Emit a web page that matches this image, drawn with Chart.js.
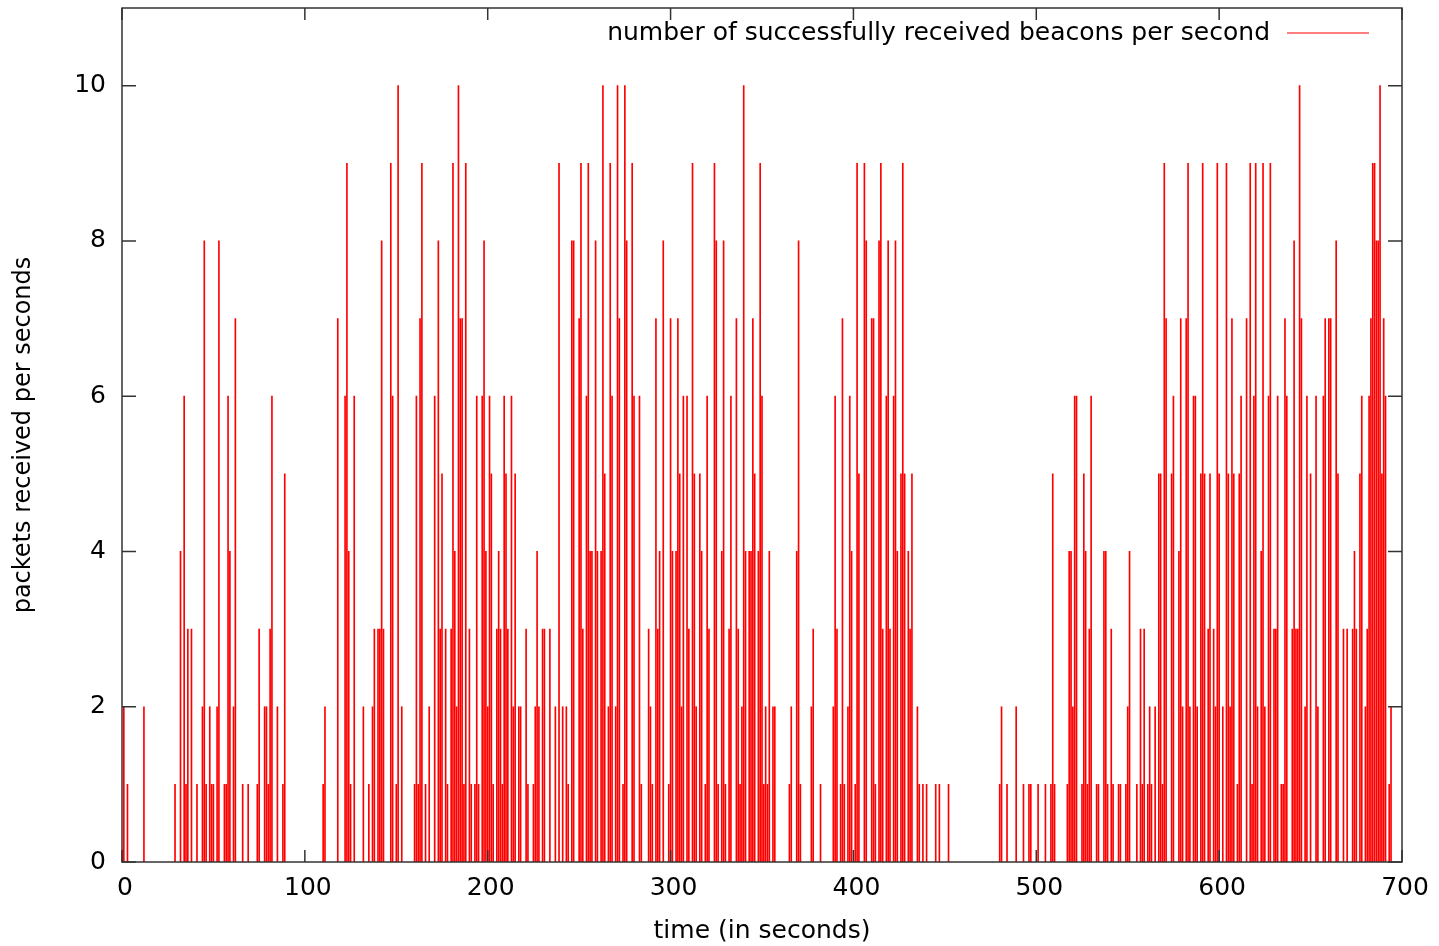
<!DOCTYPE html>
<html>
<head>
<meta charset="utf-8">
<title>Beacons per second</title>
<script src="https://cdn.jsdelivr.net/npm/chart.js@4.4.1/dist/chart.umd.min.js"></script>
<style>
    html, body { margin: 0; padding: 0; background: #fff; }
    #wrap { width: 1439px; height: 946px; }
</style>
</head>
<body>
<div id="wrap"><canvas id="beaconChart" width="1439" height="946"></canvas></div>
<script>
// Seconds that had at least one beacon, and how many were received in that second
const seconds = [
    1, 3, 12, 29, 32, 34, 35, 36, 38, 41, 44, 45, 46, 48, 49, 50, 52, 53, 56, 57,
    58, 59, 61, 62, 66, 69, 74, 75, 78, 79, 80, 81, 82, 85, 88, 89, 110, 111,
    118, 122, 123, 124, 125, 127, 132, 135, 137, 138, 140, 141, 142, 143, 147, 148,
    150, 151, 153, 160, 161, 162, 163, 164, 166, 168, 171, 173, 174,
    175, 177, 178, 180, 181, 182, 183, 184, 185, 186, 187, 188, 190, 191, 193, 194,
    195, 197, 198, 199, 200, 201, 202, 203, 205, 206, 207, 208, 209, 210, 211, 213,
    214, 215, 217, 218, 221, 222, 225, 226, 227, 228, 230, 231,
    234, 237, 239, 241, 243, 244, 246, 247, 250, 251, 252, 254, 255, 256, 257, 259,
    260, 262, 263, 264, 266, 267, 268, 270, 271, 272, 274, 275, 276, 279, 280, 283,
    284, 288, 289, 290,
    292, 293, 294, 296, 299, 300, 301, 303, 304, 305, 306, 307, 309, 310, 312, 313,
    314, 316, 317, 319, 320, 321, 324, 325, 326, 328, 329, 330, 332, 333, 336, 337,
    338, 339, 340, 341, 343, 344, 345, 346, 348, 349, 350,
    351, 352, 353, 354, 356, 357, 365, 366, 369, 370, 371, 377, 378, 382, 389, 390,
    391, 393, 394, 395, 397, 398, 399, 401, 402, 403, 406, 407,
    410, 411, 412, 414, 415, 416, 418, 419, 420, 422, 423, 424, 426, 427, 428, 430,
    431, 432, 435, 436, 438, 440, 445, 447, 452,
    480, 481, 484, 489, 493, 496, 497, 501, 505, 508, 509, 510, 517, 518, 519, 520,
    521, 522, 525, 526,
    527, 528, 529, 530, 533, 534, 537, 538, 539, 541, 542, 545, 546, 549, 550, 551,
    555, 557, 558, 559, 561, 562, 563, 565, 567, 568, 569, 570, 571, 574, 575, 578,
    579, 580, 582, 583,
    584, 586, 587, 588, 590, 591, 592, 594, 595, 597, 598, 599, 600, 602, 604, 605,
    606, 607, 608, 610, 611, 612, 615, 617, 618, 619, 620, 621, 623, 624, 625, 627,
    628, 630, 631, 632, 634, 635, 636, 637, 640, 641, 642,
    643, 644, 645, 647, 648, 650, 653, 654, 657, 658, 660, 661, 664, 665, 668, 670,
    673, 674, 675, 677, 678, 680, 681, 682, 683, 684, 685, 686, 687, 688, 689, 690,
    691, 693, 694
];
const beacons = [
    2, 1, 2, 1, 4, 6, 1, 3, 3, 1, 2, 8, 1, 2, 1, 1, 2, 8, 1, 1,
    6, 4, 2, 7, 1, 1, 1, 3, 2, 2, 1, 3, 6, 2, 1, 5, 1, 2,
    7, 6, 9, 4, 1, 6, 2, 1, 2, 3, 3, 3, 8, 3, 9, 6,
    1, 10, 2, 1, 6, 1, 7, 9, 1, 2, 6, 8, 3,
    5, 3, 1, 3, 9, 4, 2, 10, 7, 7, 1, 9, 3, 1, 1, 6,
    1, 6, 8, 4, 2, 6, 5, 1, 3, 4, 3, 1, 6, 5, 3, 6,
    2, 5, 2, 2, 3, 1, 1, 2, 4, 2, 3, 3,
    3, 2, 9, 2, 2, 1, 8, 8, 7, 9, 3, 6, 9, 4, 4, 8,
    4, 4, 10, 5, 2, 9, 6, 2, 10, 7, 1, 10, 8, 9, 6, 6,
    1, 3, 2, 1,
    7, 3, 4, 8, 1, 7, 4, 4, 7, 5, 2, 6, 6, 3, 9, 5,
    2, 5, 4, 1, 6, 3, 9, 8, 1, 4, 8, 1, 3, 6, 7, 3,
    1, 2, 10, 4, 4, 4, 7, 5, 4, 9, 6,
    1, 2, 1, 4, 2, 2, 1, 2, 4, 8, 1, 2, 3, 1, 2, 6,
    3, 1, 7, 1, 2, 6, 4, 1, 9, 5, 9, 8,
    7, 7, 1, 8, 9, 3, 6, 8, 3, 6, 8, 4, 5, 9, 5, 4,
    3, 5, 2, 1, 1, 1, 1, 1, 1,
    1, 2, 1, 2, 1, 1, 1, 1, 1, 1, 5, 1, 1, 4, 4, 2,
    6, 6, 1, 5,
    4, 1, 3, 6, 1, 1, 4, 4, 1, 3, 1, 1, 1, 1, 2, 4,
    1, 3, 1, 3, 1, 2, 1, 2, 5, 5, 1, 9, 7, 5, 6, 4,
    7, 2, 7, 9,
    2, 6, 6, 2, 5, 9, 5, 3, 5, 3, 2, 9, 5, 2, 9, 5,
    2, 7, 5, 1, 5, 6, 7, 9, 1, 6, 9, 2, 4, 9, 2, 6,
    9, 3, 3, 6, 1, 1, 7, 6, 3, 8, 3,
    3, 10, 7, 2, 6, 5, 6, 2, 6, 7, 7, 7, 8, 5, 3, 3,
    3, 4, 3, 5, 6, 2, 3, 6, 7, 9, 9, 8, 8, 10, 5, 7,
    6, 1, 2
];

const xTicks = [0, 100, 200, 300, 400, 500, 600, 700];
const yTicks = [0, 2, 4, 6, 8, 10];

const legendText = 'number of successfully received beacons per second';
const fontFamily = '"DejaVu Sans", Verdana, sans-serif';
const fontSize = 25;

const points = seconds.map((s, i) => ({ x: s, y: beacons[i] }));

// gnuplot style frame: box around plot, ticks pointing inward on all sides, legend inside
const framePlugin = {
    id: 'gnuplotFrame',
    afterDraw(chart) {
        const ctx = chart.ctx;
        const area = chart.chartArea;
        const xs = chart.scales.x;
        const ys = chart.scales.y;
        ctx.save();
        ctx.strokeStyle = '#333';
        ctx.lineWidth = 1.5;
        ctx.strokeRect(area.left, area.top, area.right - area.left, area.bottom - area.top);

        ctx.beginPath();
        xTicks.forEach(v => {
            const px = xs.getPixelForValue(v);
            ctx.moveTo(px, area.bottom);
            ctx.lineTo(px, area.bottom - 12);
            ctx.moveTo(px, area.top);
            ctx.lineTo(px, area.top + 12);
        });
        yTicks.forEach(v => {
            const py = ys.getPixelForValue(v);
            ctx.moveTo(area.left, py);
            ctx.lineTo(area.left + 14, py);
            ctx.moveTo(area.right, py);
            ctx.lineTo(area.right - 14, py);
        });
        ctx.stroke();

        // key
        ctx.font = fontSize + 'px ' + fontFamily;
        ctx.fillStyle = '#000';
        ctx.textAlign = 'right';
        ctx.textBaseline = 'middle';
        ctx.fillText(legendText, 1270, 33);
        ctx.beginPath();
        ctx.strokeStyle = '#ff0000';
        ctx.lineWidth = 1.2;
        ctx.moveTo(1287, 33);
        ctx.lineTo(1369, 33);
        ctx.stroke();
        ctx.restore();
    }
};

const ctx = document.getElementById('beaconChart').getContext('2d');

new Chart(ctx, {
    type: 'bar',
    data: {
        datasets: [{
            label: legendText,
            data: points,
            backgroundColor: '#ff0000',
            borderWidth: 0,
            barThickness: 1
        }]
    },
    options: {
        responsive: false,
        animation: false,
        layout: {
            padding: { left: 0, top: 8, right: 37, bottom: 0 }
        },
        plugins: {
            legend: { display: false },
            tooltip: { enabled: false }
        },
        scales: {
            x: {
                type: 'linear',
                min: 0,
                max: 700,
                offset: false,
                grid: { display: false, drawTicks: false },
                border: { display: false },
                afterBuildTicks: function(scale) {
                    scale.ticks = xTicks.map(v => ({ value: v }));
                },
                afterFit: function(scale) {
                    scale.height = 84;
                    scale.paddingLeft = 0;
                    scale.paddingRight = 0;
                },
                ticks: {
                    padding: 11,
                    labelOffset: 3,
                    color: '#000',
                    font: { family: fontFamily, size: fontSize },
                    maxRotation: 0
                },
                title: {
                    display: true,
                    text: 'time (in seconds)',
                    color: '#000',
                    font: { family: fontFamily, size: fontSize },
                    padding: { top: 0, bottom: 0 }
                }
            },
            y: {
                min: 0,
                max: 11,
                grid: { display: false, drawTicks: false },
                border: { display: false },
                afterBuildTicks: function(scale) {
                    scale.ticks = yTicks.map(v => ({ value: v }));
                },
                afterFit: function(scale) {
                    scale.width = 122;
                    scale.paddingTop = 0;
                    scale.paddingBottom = 0;
                },
                ticks: {
                    padding: 16,
                    color: '#000',
                    font: { family: fontFamily, size: fontSize }
                },
                title: {
                    display: true,
                    text: 'packets received per seconds',
                    color: '#000',
                    font: { family: fontFamily, size: 24 },
                    padding: { top: 9, bottom: 0 }
                }
            }
        }
    },
    plugins: [framePlugin]
});
</script>
</body>
</html>
